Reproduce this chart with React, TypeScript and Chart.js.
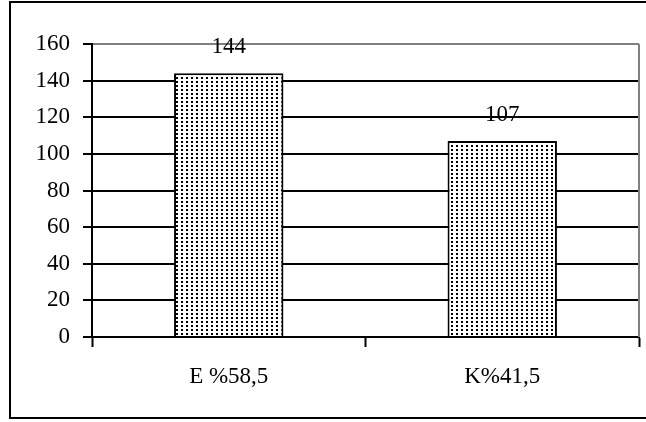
import React, { useEffect, useRef } from "react";
import { Chart, registerables } from "chart.js";

Chart.register(...registerables);

const categories: string[] = ["E %58,5", "K%41,5"];
const values: number[] = [144, 107];
const yTicks: number[] = [0, 20, 40, 60, 80, 100, 120, 140, 160];

const FONT = "'Liberation Serif', 'Times New Roman', serif";

function makePattern(): CanvasPattern | string {
  const c = document.createElement("canvas");
  c.width = 5;
  c.height = 4;
  const g = c.getContext("2d");
  if (!g) return "#888";
  g.fillStyle = "#fff";
  g.fillRect(0, 0, 5, 4);
  g.fillStyle = "#000";
  g.fillRect(1, 1, 2, 2);
  const p = g.createPattern(c, "repeat");
  return p || "#888";
}

const framePlugin = {
  id: "frame",
  beforeDraw(chart: any) {
    const ctx = chart.ctx;
    ctx.save();
    ctx.fillStyle = "#fff";
    ctx.fillRect(0, 0, chart.width, chart.height);
    ctx.strokeStyle = "#000";
    ctx.lineWidth = 2;
    ctx.strokeRect(10, 2, 700, 416);
    ctx.restore();
  },
  afterDatasetsDraw(chart: any) {
    const ctx = chart.ctx;
    const area = chart.chartArea;
    ctx.save();
    ctx.strokeStyle = "#808080";
    ctx.lineWidth = 2;
    ctx.beginPath();
    ctx.moveTo(area.right, area.top);
    ctx.lineTo(area.right, area.bottom);
    ctx.stroke();
    ctx.fillStyle = "#000";
    ctx.font = `23px ${FONT}`;
    ctx.textAlign = "center";
    ctx.textBaseline = "middle";
    const meta = chart.getDatasetMeta(0);
    meta.data.forEach((bar: any, i: number) => {
      ctx.fillText(String(values[i]), bar.x, bar.y - 26);
    });
    ctx.restore();
  },
};

export default function App() {
  const ref = useRef<HTMLCanvasElement | null>(null);
  useEffect(() => {
    if (!ref.current) return;
    const chart = new Chart(ref.current, {
      type: "bar",
      data: {
        labels: categories,
        datasets: [
          {
            data: values,
            backgroundColor: makePattern() as any,
            borderColor: "#000",
            borderWidth: 2,
            categoryPercentage: 1,
            barPercentage: 0.4,
          },
        ],
      },
      options: {
        animation: false,
        responsive: true,
        maintainAspectRatio: false,
        layout: { padding: { top: 44, right: 7, left: 0, bottom: 0 } },
        plugins: { legend: { display: false }, tooltip: { enabled: false } },
        scales: {
          x: {
            offset: true,
            grid: {
              offset: true,
              drawOnChartArea: false,
              drawTicks: true,
              tickLength: 10,
              tickColor: "#000",
              tickWidth: 2,
            },
            border: { display: true, color: "#000", width: 2 },
            ticks: {
              color: "#000",
              font: { family: FONT, size: 23 },
              padding: 16,
              maxRotation: 0,
            },
            afterFit: (scale: any) => {
              scale.height = 85;
            },
          },
          y: {
            min: 0,
            max: 160,
            afterBuildTicks: (scale: any) => {
              scale.ticks = yTicks.map((v) => ({ value: v }));
            },
            grid: {
              color: (ctx: any) =>
                ctx.tick && ctx.tick.value === 160 ? "#808080" : "#000",
              lineWidth: 2,
              tickLength: 9,
              tickColor: "#000",
              tickWidth: 2,
            },
            border: { display: true, color: "#000", width: 2 },
            ticks: {
              color: "#000",
              font: { family: FONT, size: 23 },
              padding: 13,
            },
            afterFit: (scale: any) => {
              scale.width = 92;
            },
          },
        },
      },
      plugins: [framePlugin],
    });
    return () => chart.destroy();
  }, []);
  return (
    <div style={{ position: "absolute", left: 0, top: 0, width: 646, height: 422 }}>
      <canvas ref={ref} />
    </div>
  );
}
